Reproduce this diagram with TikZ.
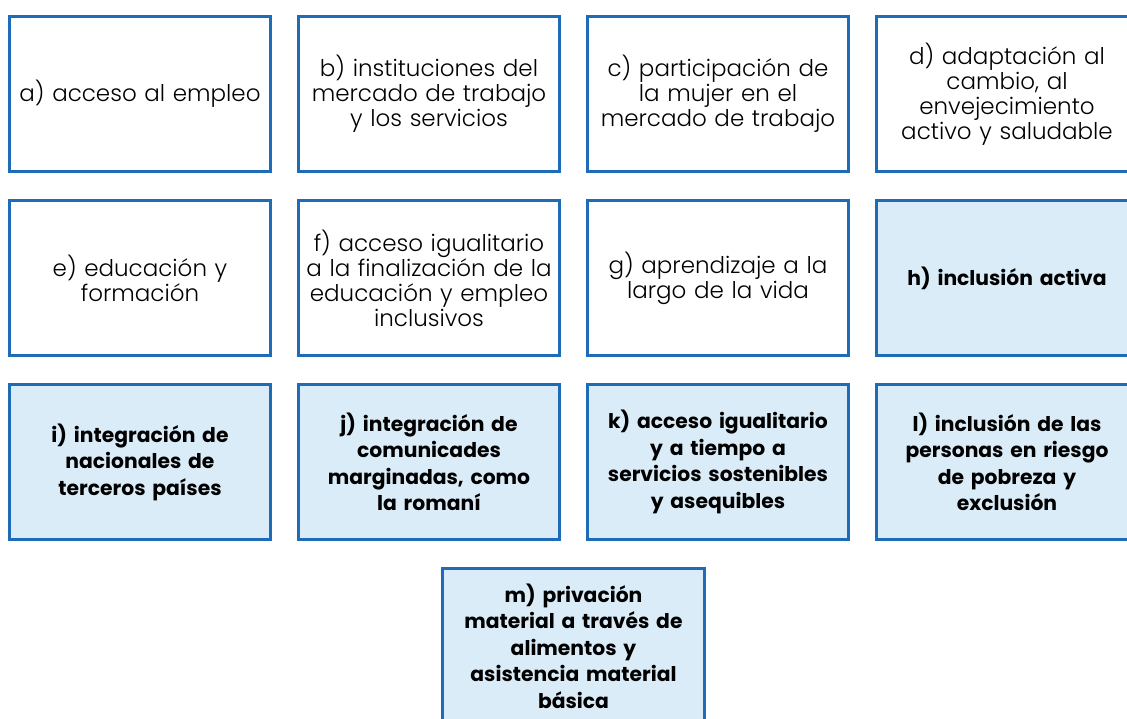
\documentclass[tikz,border=0pt]{standalone}
\usepackage{fontspec}
\setmainfont{Poppins}
\newfontfamily\lightfont{Poppins Light}
\definecolor{bordblue}{RGB}{30,108,183}
\definecolor{fillblue}{RGB}{218,236,247}
\tikzset{
  card/.style={draw=bordblue, line width=2.6pt, minimum width=261.5pt, minimum height=155.5pt,
    inner sep=0pt, align=center, text width=258pt},
  plaincard/.style={card, fill=white, font=\lightfont\fontsize{23}{25}\selectfont},
  bluecard/.style={card, fill=fillblue, font=\fontsize{20.3}{26.5}\selectfont\bfseries},
}
\begin{document}
\begin{tikzpicture}[x=1pt,y=-1pt]
\useasboundingbox (0,0) rectangle (1127,718);
\node[plaincard] (a) at (140,94) {a) acceso al empleo};
\node[plaincard] (b) at (429,94) {b) instituciones del\\mercado de trabajo\\y los servicios};
\node[plaincard] (c) at (718,94) {c) participación de\\la mujer en el\\mercado de trabajo};
\node[plaincard] (d) at (1007,94) {d) adaptación al\\cambio, al\\envejecimiento\\activo y saludable};
\node[plaincard] (e) at (140,278) {e) educación y\\formación};
\node[plaincard] (f) at (429,278) {f) acceso igualitario\\a la finalización de la\\educación y empleo\\inclusivos};
\node[plaincard] (g) at (718,278) {g) aprendizaje a la\\largo de la vida};
\node[bluecard] (h) at (1007,278) {h) inclusión activa};
\node[bluecard] (i) at (140,462) {i) integración de\\nacionales de\\terceros países};
\node[bluecard] (j) at (429,462) {j) integración de\\comunicades\\marginadas, como\\la romaní};
\node[bluecard] (k) at (718,462) {k) acceso igualitario\\y a tiempo a\\servicios sostenibles\\y asequibles};
\node[bluecard] (l) at (1007,462) {l) inclusión de las\\personas en riesgo\\de pobreza y\\exclusión};
\node[bluecard] (m) at (573.5,646) {m) privación\\material a través de\\alimentos y\\asistencia material\\básica};
\end{tikzpicture}
\end{document}
